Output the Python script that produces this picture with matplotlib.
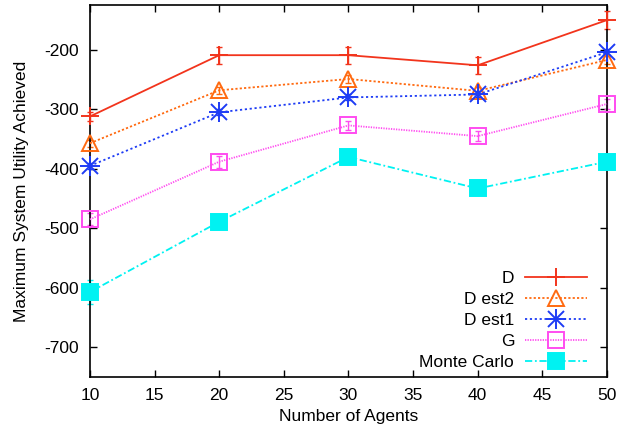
import matplotlib
matplotlib.use("Agg")
import matplotlib.pyplot as plt

# --- Data ---

agents = [10, 20, 30, 40, 50]

d_vals = [-312, -209, -209, -226, -150]
d_err = [7, 14, 14, 14, 15]

d_est2_vals = [-357, -268, -249, -269, -217]
d_est2_err = [6, 6, 6, 6, 6]

d_est1_vals = [-395, -305, -280, -275, -204]
d_est1_err = [5, 5, 5, 5, 5]

g_vals = [-485, -388, -327, -345, -291]
g_err = [10, 10, 8, 8, 8]

mc_vals = [-607, -489, -380, -433, -388]
mc_err = [20, 8, 8, 8, 8]

x_ticks = [10, 15, 20, 25, 30, 35, 40, 45, 50]
y_ticks = [-200, -300, -400, -500, -600, -700]

# --- Style ---

plt.rcParams["font.family"] = ["Liberation Sans", "DejaVu Sans"]
plt.rcParams["axes.unicode_minus"] = False
FS = 12.5

series = [
    ("D", d_vals, d_err, "#F2341C", "-", "+", 13, "none"),
    ("D est2", d_est2_vals, d_est2_err, "#FF6A10", (0, (1.2, 1.2)), "^", 12, "none"),
    ("D est1", d_est1_vals, d_est1_err, "#1E3CF5", (0, (1.2, 1.5)), "*", 0, "none"),
    ("G", g_vals, g_err, "#FF4CF0", (0, (0.7, 0.7)), "s", 11.5, "none"),
    ("Monte Carlo", mc_vals, mc_err, "#00F2F2", (0, (4, 1.5, 1, 1.5)), "s", 11.5, "fill"),
]

fig = plt.figure(figsize=(6.2, 4.33), dpi=100)
ax = fig.add_axes([0.145, 0.129, 0.834, 0.859])

handles = []
for label, vals, err, color, ls, marker, ms, fill in series:
    # error bars first, then the line with markers on top
    ax.errorbar(agents, vals, yerr=err, fmt="none", ecolor=color,
                elinewidth=1.0, capsize=2.5, capthick=1.0, zorder=2,
                clip_on=False)
    face = color if fill == "fill" else "none"
    if marker == "*":
        # asterisk-like marker: + and x drawn on top of each other
        ax.plot(agents, vals, color=color, linestyle=ls, linewidth=1.3,
                marker="+", markersize=14, markeredgewidth=1.4, zorder=3,
                clip_on=False)
        ax.plot(agents, vals, linestyle="none", marker="x", markersize=11,
                markeredgewidth=1.4, color=color, zorder=4, clip_on=False)
        h1 = plt.Line2D([], [], color=color, linestyle=ls, linewidth=1.3,
                        marker="+", markersize=14, markeredgewidth=1.4)
        h2 = plt.Line2D([], [], linestyle="none", marker="x", markersize=11,
                        markeredgewidth=1.4, color=color)
        handles.append(((h1, h2), label))
    else:
        ax.plot(agents, vals, color=color, linestyle=ls, linewidth=1.3,
                marker=marker, markersize=ms, markerfacecolor=face,
                markeredgecolor=color, markeredgewidth=1.4, zorder=3,
                clip_on=False)
        h = plt.Line2D([], [], color=color, linestyle=ls, linewidth=1.3,
                       marker=marker, markersize=ms, markerfacecolor=face,
                       markeredgecolor=color, markeredgewidth=1.4)
        handles.append((h, label))

ax.set_xlim(10, 50)
ax.set_ylim(-750, -125)
ax.set_xticks(x_ticks)
ax.set_yticks(y_ticks)
ax.tick_params(direction="in", top=True, right=True, length=5, width=1.0,
               labelsize=FS, pad=8)
for sp in ax.spines.values():
    sp.set_linewidth(1.2)

ax.set_xlabel("Number of Agents", fontsize=FS, labelpad=4)
ax.set_ylabel("Maximum System Utility Achieved", fontsize=FS, labelpad=11)

ax.legend([h for h, _ in handles], [l for _, l in handles],
          loc="lower right", frameon=False, markerfirst=False,
          fontsize=FS, handlelength=3.6, handletextpad=0.6,
          labelspacing=0.34, borderaxespad=0.0,
          bbox_to_anchor=(0.975, 0.0))

fig.savefig("out.png", dpi=100)
